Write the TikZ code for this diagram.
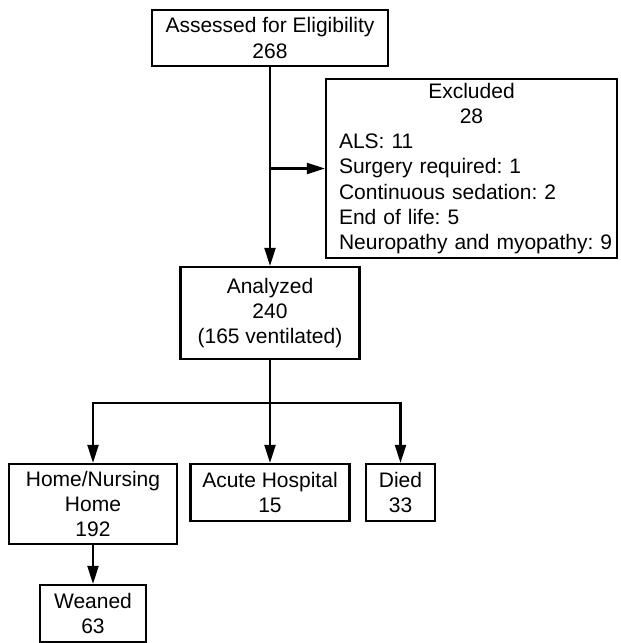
\documentclass[tikz,border=0pt]{standalone}
\usepackage{fontspec}
\setmainfont{Liberation Sans}
\usetikzlibrary{arrows.meta}

\begin{document}
\frenchspacing
\begin{tikzpicture}[x=1pt,y=-1pt,line width=2.2pt,
  font=\fontsize{21}{25.3}\selectfont,
  box/.style={draw,line width=2.2pt,inner sep=0pt,align=center,anchor=center},
  arr/.style={-{Triangle[length=18pt,width=11pt]}}]
\path[use as bounding box] (0,0) rectangle (621,643);
\node[box,minimum width=291pt,minimum height=179pt,text width=265pt,align=left] (excluded) at (471.5,168.5)
  {\makebox[\linewidth]{Excluded}\\\makebox[\linewidth]{28}\\ALS: 11\\Surgery required: 1\\Continuous sedation: 2\\End of life: 5\\\mbox{Neuropathy and myopathy: 9}};
\node[box,minimum width=236pt,minimum height=56pt] (assessed) at (270,38) {Assessed for Eligibility\\268};
\node[box,minimum width=179pt,minimum height=92pt] (analyzed) at (270,313) {Analyzed\\240\\(165 ventilated)};
\node[box,minimum width=168pt,minimum height=80pt] (home) at (93,504) {Home/Nursing\\Home\\192};
\node[box,minimum width=159pt,minimum height=57pt] (acute) at (270,492.5) {Acute Hospital\\15};
\node[box,minimum width=69pt,minimum height=57pt] (died) at (400.5,492.5) {Died\\33};
\node[box,minimum width=106pt,minimum height=57pt] (weaned) at (93,613.5) {Weaned\\63};
\coordinate (split) at (270,403);
\draw[arr] (assessed.south) -- (analyzed.north);
\draw[arr] (assessed.south |- excluded.west) -- (excluded.west);
\draw (analyzed.south) -- (split);
\draw[arr] (split) -| (home.north);
\draw[arr] (split) -- (acute.north);
\draw[arr] (split) -| (died.north);
\draw[arr] (home.south) -- (weaned.north);
\end{tikzpicture}
\end{document}
